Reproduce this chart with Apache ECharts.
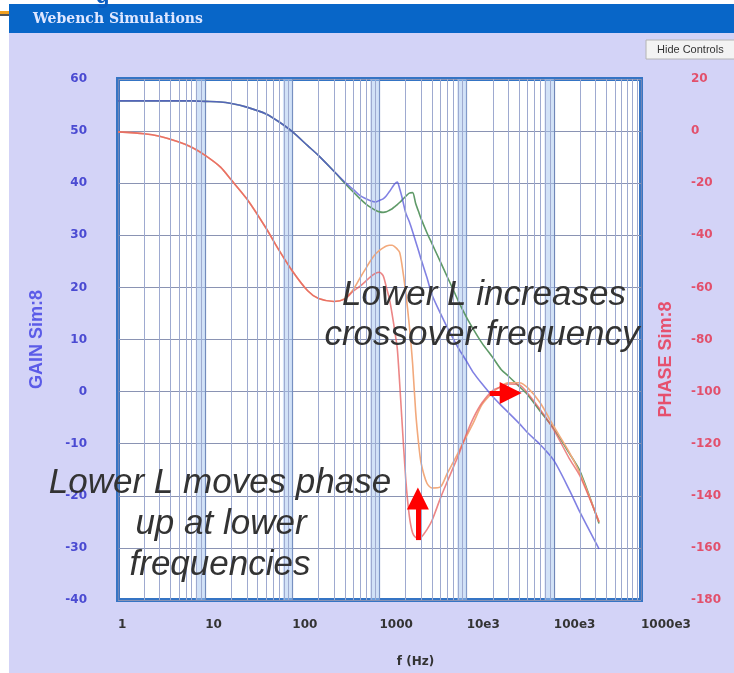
<!DOCTYPE html>
<html><head><meta charset="utf-8">
<script src="https://cdn.jsdelivr.net/npm/echarts@6/dist/echarts.min.js"></script>
<style>html,body{margin:0;padding:0;background:#fff}#c{width:734px;height:673px}</style>
</head><body><div id="c"></div>
<script>
// ---- data (frequency in Hz) ----
const freqHz = [1,2,3,5,7,10,15,20,30,50,70,100,150,200,300,400,500,600,700,800,900,1000,1100,1200,1300,1400,1500,1600,1700,1800,2000,2200,2400,2600,2800,3000,3500,4000,5000,6000,7000,8000,10000,12000,15000,20000,25000,30000,40000,50000,70000,100000,150000,200000,330000];
// gain (dB), higher inductance (blue)
const gainHighL = [55.8,55.8,55.8,55.8,55.8,55.7,55.6,55.3,54.6,53.3,51.8,49.9,47.2,45.3,42.3,40.2,38.8,37.6,37.0,36.6,36.4,36.7,37.0,37.6,38.4,39.2,39.9,40.2,39.0,37.5,34.3,32.6,30.7,28.8,27.1,25.4,21.9,18.6,15.0,12.3,10.2,8.4,5.8,3.6,1.5,-1.0,-2.7,-4.0,-6.1,-7.9,-10.2,-13.2,-18.8,-23.2,-30.2];
// gain (dB), lower inductance (green)
const gainLowL = [55.8,55.8,55.8,55.8,55.8,55.7,55.6,55.3,54.6,53.3,51.8,49.9,47.2,45.3,42.3,40.0,38.3,37.0,36.0,35.3,34.8,34.5,34.4,34.5,34.8,35.1,35.5,35.9,36.3,36.7,37.5,38.1,38.2,36.1,34.6,33.2,30.5,28.4,24.9,22.0,19.6,17.4,14.2,11.9,9.3,6.5,4.2,3.0,1.0,-0.6,-3.8,-7.1,-11.8,-15.3,-25.3];
// phase (deg), higher inductance (red)
const phaseHighL = [-0.3,-1.0,-2.0,-4.2,-6.2,-9.3,-13.8,-18.8,-26.0,-37.3,-45.6,-53.7,-61.3,-64.3,-65.4,-64.5,-61.4,-59.5,-57.5,-55.8,-54.6,-54.2,-55.5,-60.0,-64.5,-70.5,-77.0,-83.5,-96.3,-109.8,-133.6,-147.8,-154.3,-156.0,-156.3,-156.0,-153.0,-149.5,-140.9,-134.5,-129.2,-124.6,-116.1,-110.0,-104.3,-99.5,-98.2,-97.1,-97.4,-100.6,-107.0,-114.7,-125.6,-132.5,-150.0];
// phase (deg), lower inductance (orange)
const phaseLowL = [-0.3,-1.0,-2.0,-4.2,-6.2,-9.3,-13.8,-18.8,-26.0,-37.3,-45.6,-53.7,-61.3,-64.3,-65.4,-64.3,-60.8,-56.3,-52.6,-49.5,-47.2,-45.8,-44.8,-44.1,-43.8,-43.8,-44.4,-45.3,-46.5,-50.8,-62.0,-74.8,-89.4,-107.8,-119.5,-127.4,-135.2,-137.0,-136.6,-131.3,-127.2,-123.4,-117.0,-111.8,-105.0,-100.3,-97.8,-96.6,-96.6,-98.5,-104.4,-113.4,-123.2,-131.5,-150.0];
const xTickLabels = ['1','10','100','1000','10e3','100e3','1000e3'];
// annotation arrows (Hz, deg): tail and head-centre positions
const arrowUpFreq = 2755, arrowUpPhase = [-157, -141];
const arrowRightFreq = [18400, 32000], arrowRightPhase = -100.5;

const pairs = (ys) => freqHz.map((f, i) => [f, ys[i]]);

// grid decoration lines (log-axis minor lines & decade bands)
const minorLines = [];
for (let k = 0; k < 6; k++) for (let m = 2; m <= 9; m++) minorLines.push({ xAxis: m * Math.pow(10, k) });
const decadeBands = [];
for (let k = 1; k < 6; k++) decadeBands.push([{ xAxis: 0.78 * Math.pow(10, k) }, { xAxis: Math.pow(10, k) }]);

const chart = echarts.init(document.getElementById('c'), null, { renderer: 'canvas' });
const lab = 'DejaVu Sans';
const ann = 'italic 35px "Liberation Sans"';
const annText = (x, y, t) => ({ type: 'text', x, y, z: 100, style: { text: t, font: ann, fill: '#333333', align: 'center', textAlign: 'center', verticalAlign: 'middle', textVerticalAlign: 'middle' } });
chart.setOption({
  animation: false,
  backgroundColor: '#d3d3f7',
  grid: { left: 118, top: 79, width: 523, height: 521, containLabel: false, outerBoundsMode: 'none', show: true, backgroundColor: '#ffffff', borderColor: '#3574c4', borderWidth: 4 },
  xAxis: {
    type: 'log', logBase: 10, min: 1, max: 1e6,
    axisLine: { show: false }, axisTick: { show: false },
    splitLine: { show: true, lineStyle: { color: '#6f86b8', width: 1.2 } },
    axisLabel: { formatter: v => xTickLabels[Math.round(Math.log10(v))], align: 'left', margin: 19, color: '#333333', fontFamily: lab, fontWeight: 'bold', fontSize: 12, showMinLabel: true, showMaxLabel: true },
    name: 'f (Hz)', nameLocation: 'middle', nameGap: 56, nameMoveOverlap: false,
    nameTextStyle: { color: '#333333', fontFamily: lab, fontWeight: 'bold', fontSize: 12, padding: [0, 0, 0, 72] }
  },
  yAxis: [
    {
      type: 'value', min: -40, max: 60, interval: 10, position: 'left',
      axisLine: { show: false }, axisTick: { show: false },
      splitLine: { show: true, lineStyle: { color: '#8a93b3', width: 1.2 } },
      axisLabel: { margin: 31, color: '#4a4ad2', fontFamily: lab, fontWeight: 'bold', fontSize: 12 },
      name: 'GAIN Sim:8', nameLocation: 'middle', nameGap: 72, nameRotate: 90, nameMoveOverlap: false,
      nameTextStyle: { color: '#5b5be8', fontFamily: 'Liberation Sans', fontWeight: 'bold', fontSize: 18 }
    },
    {
      type: 'value', min: -180, max: 20, interval: 20, position: 'right',
      axisLine: { show: false }, axisTick: { show: false }, splitLine: { show: false },
      axisLabel: { margin: 50, align: 'left', color: '#e2506c', fontFamily: lab, fontWeight: 'bold', fontSize: 12 },
      name: 'PHASE Sim:8', nameLocation: 'middle', nameGap: 16, nameRotate: 90, nameMoveOverlap: false,
      nameTextStyle: { color: '#e6506e', fontFamily: 'Liberation Sans', fontWeight: 'bold', fontSize: 18, padding: [0, 40, 0, 0] }
    }
  ],
  series: [
    {
      type: 'line', data: [], silent: true, z: 1,
      markArea: { silent: true, itemStyle: { color: 'rgba(165,198,240,0.5)' }, data: decadeBands },
      markLine: { silent: true, symbol: 'none', label: { show: false }, lineStyle: { color: '#9eaad0', width: 1, type: 'solid' }, data: minorLines }
    },
    { name: 'gain lowL', type: 'line', data: pairs(gainLowL), yAxisIndex: 0, showSymbol: false, smooth: 0.25, z: 3, lineStyle: { color: '#5f9a68', width: 1.6 } },
    { name: 'gain highL', type: 'line', data: pairs(gainHighL), yAxisIndex: 0, showSymbol: false, smooth: 0.25, z: 4, lineStyle: { color: '#5050d8', width: 1.6, opacity: 0.72 } },
    { name: 'phase lowL', type: 'line', data: pairs(phaseLowL), yAxisIndex: 1, showSymbol: false, smooth: 0.25, z: 3, lineStyle: { color: '#f2a97c', width: 1.6 } },
    {
      name: 'phase highL', type: 'line', data: pairs(phaseHighL), yAxisIndex: 1, showSymbol: false, smooth: 0.25, z: 4, lineStyle: { color: '#e65e5e', width: 1.6, opacity: 0.75 },
      markLine: {
        silent: true, symbol: ['none', 'triangle'], symbolSize: 22, label: { show: false },
        itemStyle: { color: '#ff0000' },
        lineStyle: { color: '#ff0000', width: 5, type: 'solid', opacity: 1 },
        data: [
          [{ coord: [arrowUpFreq, arrowUpPhase[0]] }, { coord: [arrowUpFreq, arrowUpPhase[1]] }],
          [{ coord: [arrowRightFreq[0], arrowRightPhase] }, { coord: [arrowRightFreq[1], arrowRightPhase] }]
        ]
      }
    }
  ],
  graphic: [
    { type: 'rect', shape: { x: 0, y: 0, width: 9, height: 673 }, style: { fill: '#ffffff' }, z: 0 },
    { type: 'rect', shape: { x: 0, y: 0, width: 734, height: 4 }, style: { fill: '#ffffff' }, z: 0 },
    { type: 'text', x: 96, y: -14, style: { text: 'g', font: 'bold 22px "Liberation Sans"', fill: '#0b5cc0' }, z: 1 },
    { type: 'rect', shape: { x: 9, y: 4, width: 725, height: 29 }, style: { fill: '#0866c8' }, z: 0 },
    { type: 'rect', shape: { x: 0, y: 11, width: 9, height: 3 }, style: { fill: '#f0a020' }, z: 1 },
    { type: 'rect', shape: { x: 0, y: 14, width: 9, height: 2 }, style: { fill: '#555555' }, z: 1 },
    { type: 'text', x: 33, y: 19, style: { text: 'Webench Simulations', font: 'bold 14px "DejaVu Serif"', fill: '#dfe7ff', verticalAlign: 'middle', textVerticalAlign: 'middle' }, z: 1 },
    { type: 'rect', shape: { x: 646, y: 40, width: 100, height: 19 }, style: { fill: '#f3f3f3', stroke: '#b4b4b4', lineWidth: 1 }, z: 1 },
    { type: 'text', x: 657, y: 50, style: { text: 'Hide Controls', font: '11px "Liberation Sans"', fill: '#333333', verticalAlign: 'middle', textVerticalAlign: 'middle' }, z: 2 },
    annText(484, 295, 'Lower L increases'),
    annText(482, 335, 'crossover frequency'),
    annText(220, 483, 'Lower L moves phase'),
    annText(221, 524, 'up at lower'),
    annText(220, 565, 'frequencies')
  ]
});
</script></body></html>
